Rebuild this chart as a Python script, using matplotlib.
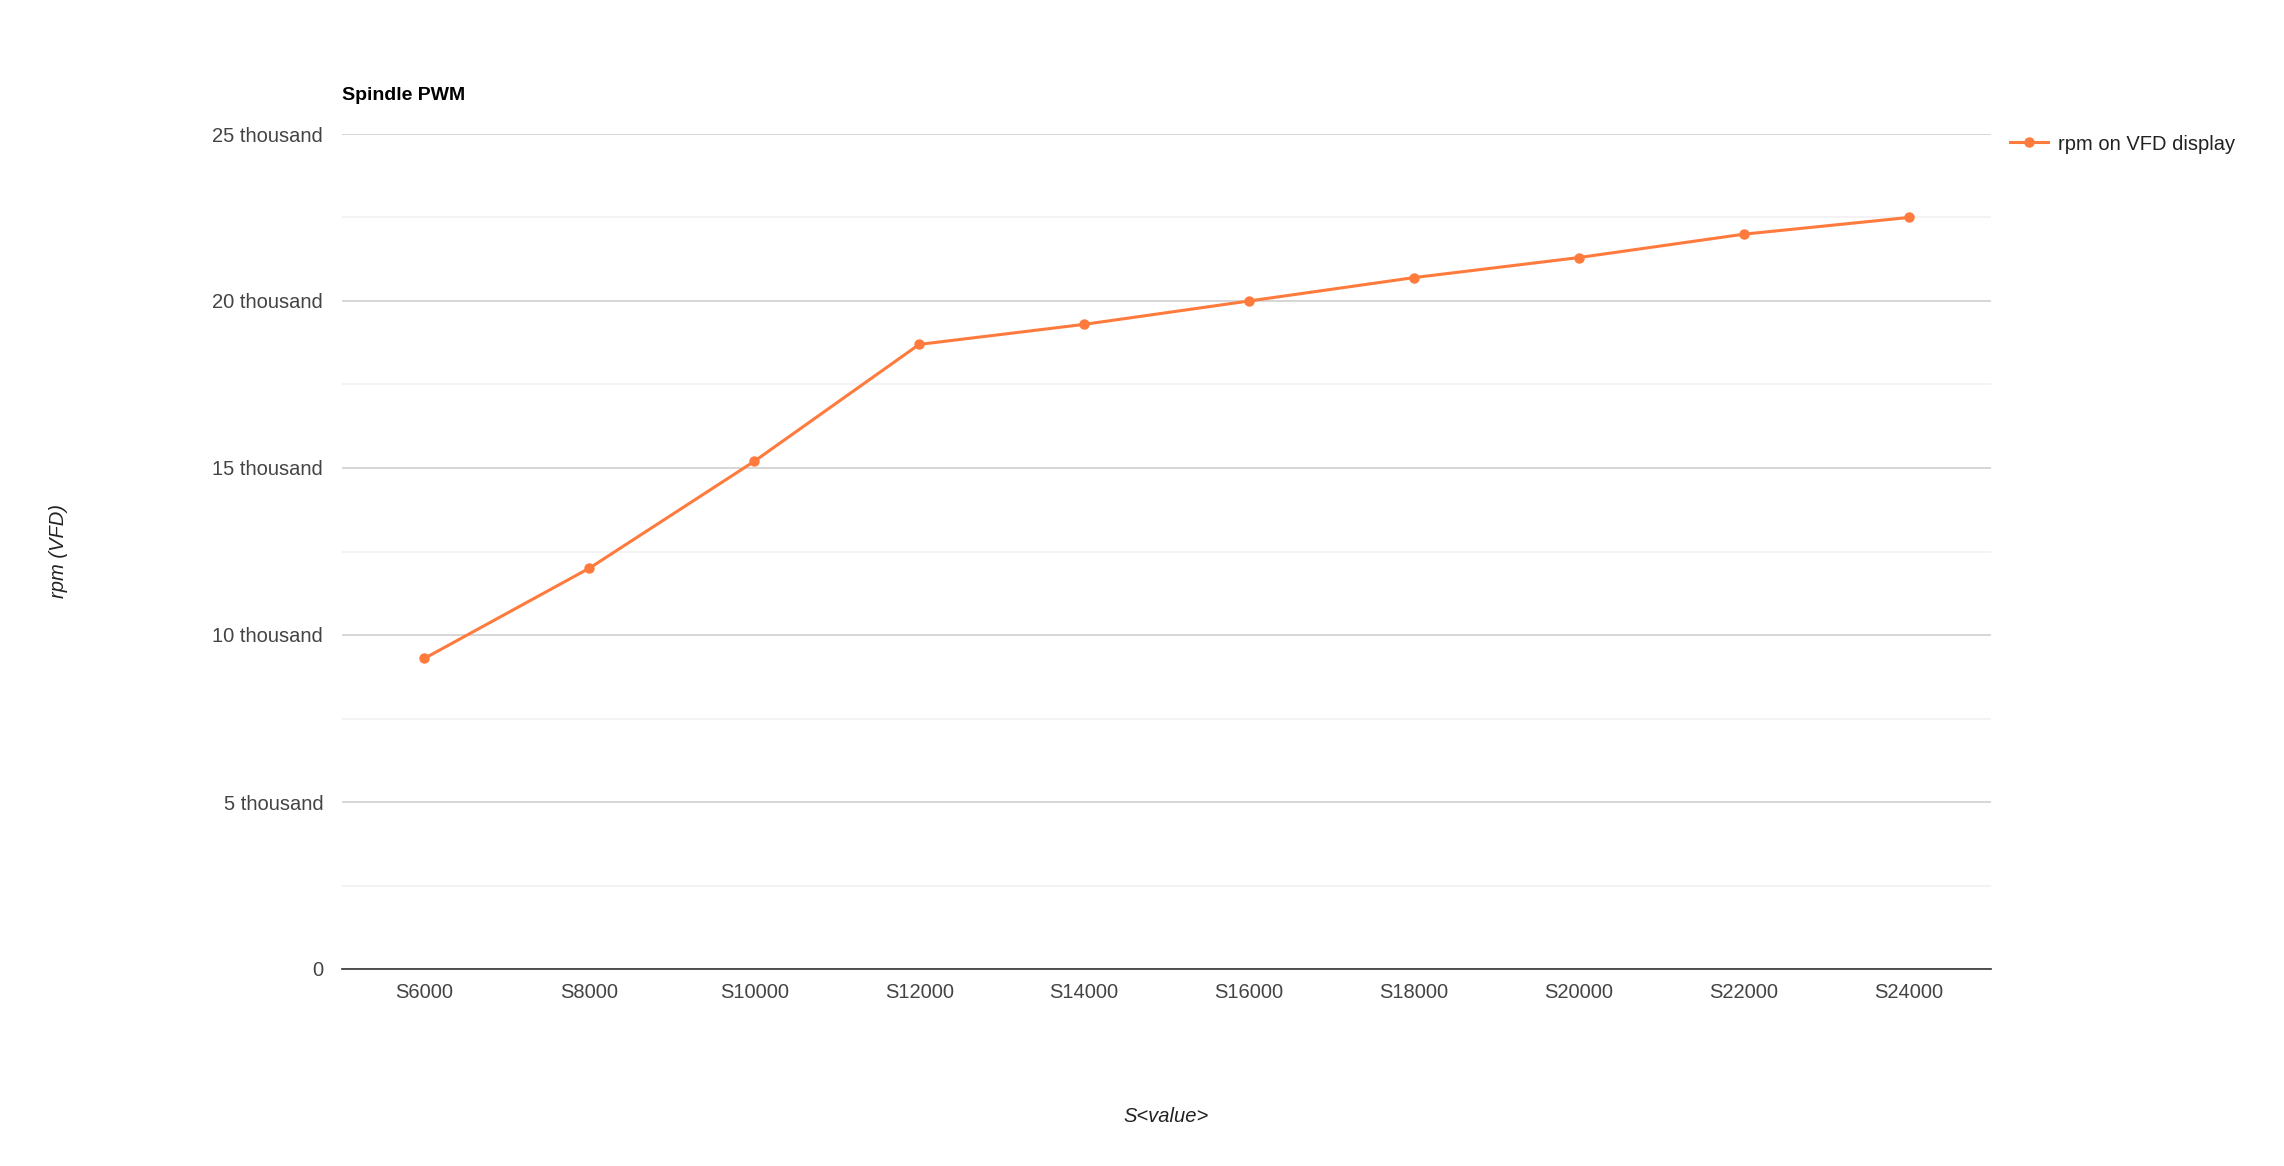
import matplotlib
matplotlib.use('Agg')
from matplotlib import pyplot as plt
from matplotlib.ticker import MultipleLocator, FuncFormatter
from matplotlib.lines import Line2D

categories = ['S6000', 'S8000', 'S10000', 'S12000', 'S14000',
              'S16000', 'S18000', 'S20000', 'S22000', 'S24000']
rpm = [9300, 12000, 15200, 18700, 19300, 20000, 20700, 21300, 22000, 22500]
series_name = 'rpm on VFD display'

color = '#ff7b3d'
plt.rcParams['font.family'] = ['Liberation Sans', 'DejaVu Sans']

fig = plt.figure(figsize=(22.84, 11.66), dpi=100)
ax = fig.add_axes([342/2284, 1-969/1166, (1991-342)/2284, (969-134)/1166])

x = list(range(len(categories)))
ax.plot(x, rpm, color=color, linewidth=2.2, marker='o', markersize=6.5, zorder=3)

ax.set_xlim(-0.5, len(categories) - 0.5)
ax.set_ylim(0, 25000)
ax.yaxis.set_major_locator(MultipleLocator(5000))
ax.yaxis.set_minor_locator(MultipleLocator(2500))

def fmt(v, pos):
    return '0' if v == 0 else '%d thousand' % (v / 1000)
ax.yaxis.set_major_formatter(FuncFormatter(fmt))

ax.grid(axis='y', which='major', color='#cccccc', linewidth=1.1)
ax.grid(axis='y', which='minor', color='#f0f0f0', linewidth=1.1)
ax.set_axisbelow(True)
for s in ['top', 'right', 'left']:
    ax.spines[s].set_visible(False)
ax.spines['bottom'].set_color('#333333')
ax.spines['bottom'].set_linewidth(1.2)
ax.spines['bottom'].set_zorder(2)

ax.set_xticks(x)
ax.set_xticklabels(categories)
ax.tick_params(axis='both', which='both', length=0, labelsize=14.5, labelcolor='#444444')
ax.tick_params(axis='x', pad=10)
ax.tick_params(axis='y', pad=13.5)

fig.text(342/2284, 1-95/1166, 'Spindle PWM', fontsize=14, fontweight='bold',
         ha='left', va='center', color='#000000')
fig.text(58/2284, 1-551/1166, 'rpm (VFD)', fontsize=14.5, style='italic',
         rotation=90, ha='center', va='center', color='#222222')
fig.text(1166/2284, 1-1117/1166, 'S<value>', fontsize=14.5, style='italic',
         ha='center', va='center', color='#222222')

handle = Line2D([0], [0], color=color, linewidth=2.2, marker='o', markersize=6.5)
leg = fig.legend([handle], [series_name], loc='center left',
                 bbox_to_anchor=(1992/2284, 1-144/1166), frameon=False,
                 fontsize=14.5, handlelength=1.9, handletextpad=0.5)
for t in leg.get_texts():
    t.set_color('#222222')

plt.savefig('out.png', dpi=100)
